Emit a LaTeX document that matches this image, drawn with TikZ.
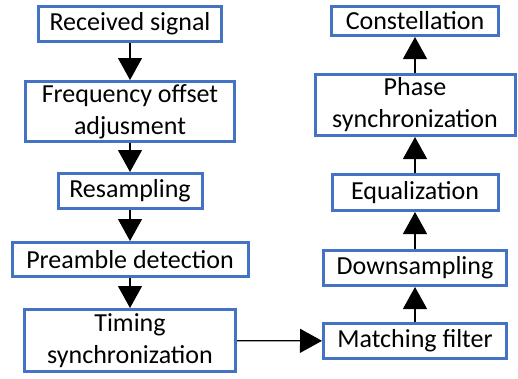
\documentclass[tikz,border=0pt]{standalone}
\usepackage{fontspec}
\setmainfont{Carlito}
\usepackage{tikz}
\usetikzlibrary{positioning,arrows.meta}
\definecolor{boxblue}{HTML}{4472C4}
\tikzset{
    every node/.style={font=\fontsize{26}{32}\selectfont},
    stage/.style={rectangle,draw=boxblue,line width=3pt,fill=white,align=center,inner sep=0pt},
    flow/.style={draw,-{Triangle[width=24pt,length=22pt]},line width=1.2pt}
}
\begin{document}
\begin{tikzpicture}[x=1pt,y=-1pt]
    \useasboundingbox (0,0) rectangle (518,378);
    \node[stage,minimum width=183pt,minimum height=35pt] (rx) at (130,24) {Received signal};
    \node[stage,minimum width=209pt,minimum height=60pt] (freq) at (130,111.5) {Frequency offset\\adjusment};
    \node[stage,minimum width=144pt,minimum height=35pt] (resamp) at (130,191) {Resampling};
    \node[stage,minimum width=236pt,minimum height=34pt] (pream) at (130,259.5) {Preamble detection};
    \node[stage,minimum width=211pt,minimum height=62pt] (timing) at (130,340.5) {Timing\\synchronization};
    \node[stage,minimum width=183pt,minimum height=35pt] (match) at (415,341) {Matching filter};
    \node[stage,minimum width=183pt,minimum height=35pt] (down) at (415,268) {Downsampling};
    \node[stage,minimum width=166pt,minimum height=36pt] (equal) at (415,192.5) {Equalization};
    \node[stage,minimum width=200pt,minimum height=61pt] (phase) at (415,105) {Phase\\synchronization};
    \node[stage,minimum width=167pt,minimum height=29pt] (const) at (415,21) {Constellation};
    \draw[flow] (rx) -- (freq);
    \draw[flow] (freq) -- (resamp);
    \draw[flow] (resamp) -- (pream);
    \draw[flow] (pream) -- (timing);
    \draw[flow] (timing) -- (match);
    \draw[flow] (match) -- (down);
    \draw[flow] (down) -- (equal);
    \draw[flow] (equal) -- (phase);
    \draw[flow] (phase) -- (const);
\end{tikzpicture}
\end{document}
